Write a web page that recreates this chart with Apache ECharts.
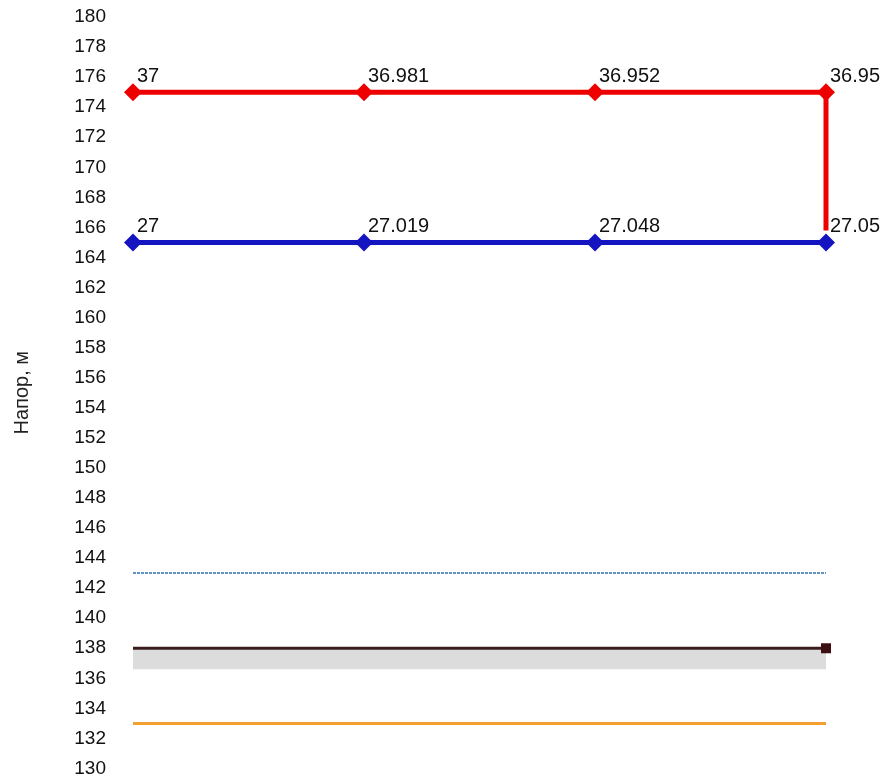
<!DOCTYPE html>
<html>
<head>
<meta charset="utf-8">
<script src="https://cdn.jsdelivr.net/npm/echarts@6/dist/echarts.min.js"></script>
<style>
  html, body { margin: 0; padding: 0; background: #fff; }
  #chart { width: 886px; height: 778px; }
</style>
</head>
<body>
<div id="chart"></div>
<script>
// points along the pipe
const points = ['1', '2', '3', '4'];
// head lines, m
const redHead = [175, 175, 175, 175];
const blueHead = [165, 165, 165, 165];
// labels shown above markers
const redLabels = ['37', '36.981', '36.952', '36.95'];
const blueLabels = ['27', '27.019', '27.048', '27.05'];
// vertical drop at the last point
const redDrop = [175, 165.8];
// level lines
const dashedLevel = [143, 143, 143, 143];
const groundLevel = [138, 138, 138, 138];
const groundBottom = 136.6;
const orangeLevel = [133, 133, 133, 133];

const FONT = 'Liberation Sans, Arial, sans-serif';
const chart = echarts.init(document.getElementById('chart'));

function labelCfg(texts) {
  return {
    show: true,
    position: [13, -17],
    align: 'left',
    verticalAlign: 'top',
    fontFamily: FONT,
    fontSize: 20,
    color: '#111',
    formatter: p => texts[p.dataIndex]
  };
}

chart.setOption({
  animation: false,
  grid: { left: 133, right: 60, top: 17, bottom: 7 },
  xAxis: {
    type: 'category',
    data: points,
    boundaryGap: false,
    show: false
  },
  yAxis: {
    type: 'value',
    min: 130,
    max: 180,
    interval: 2,
    name: 'Напор, м',
    nameLocation: 'middle',
    nameGap: 101,
    nameRotate: 90,
    nameTextStyle: { fontFamily: FONT, fontSize: 20, color: '#222' },
    axisLine: { show: false },
    axisTick: { show: false },
    splitLine: { show: false },
    axisLabel: {
      margin: 27,
      fontFamily: FONT,
      fontSize: 19,
      color: '#111'
    }
  },
  series: [
    {
      type: 'line',
      data: groundLevel,
      symbol: 'none',
      lineStyle: { color: '#3b1c1c', width: 3 },
      markArea: {
        silent: true,
        itemStyle: { color: '#dcdcdc' },
        data: [[{ xAxis: 0, yAxis: groundLevel[0] }, { xAxis: 3, yAxis: groundBottom }]]
      },
      z: 3
    },
    {
      type: 'line',
      data: groundLevel.map((v, i) => ({
        value: v,
        symbol: i === groundLevel.length - 1 ? 'rect' : 'none'
      })),
      symbolSize: 10,
      itemStyle: { color: '#3b1010' },
      lineStyle: { width: 0 },
      z: 4
    },
    {
      type: 'line',
      data: dashedLevel,
      symbol: 'none',
      lineStyle: { color: '#2f6fb0', width: 1.5, type: [3, 1] }
    },
    {
      type: 'line',
      data: orangeLevel,
      symbol: 'none',
      lineStyle: { color: '#f4a030', width: 3 }
    },
    {
      type: 'line',
      data: redDrop.map(v => [points.length - 1, v]),
      symbol: 'none',
      lineStyle: { color: '#ee0000', width: 5 },
      z: 5
    },
    {
      type: 'line',
      data: redHead,
      symbol: 'diamond',
      symbolSize: 18,
      itemStyle: { color: '#ee0000' },
      lineStyle: { color: '#ee0000', width: 5 },
      label: labelCfg(redLabels),
      z: 6
    },
    {
      type: 'line',
      data: blueHead,
      symbol: 'diamond',
      symbolSize: 18,
      itemStyle: { color: '#1414c0' },
      lineStyle: { color: '#1414c0', width: 5 },
      label: labelCfg(blueLabels),
      z: 6
    }
  ]
});
</script>
</body>
</html>
